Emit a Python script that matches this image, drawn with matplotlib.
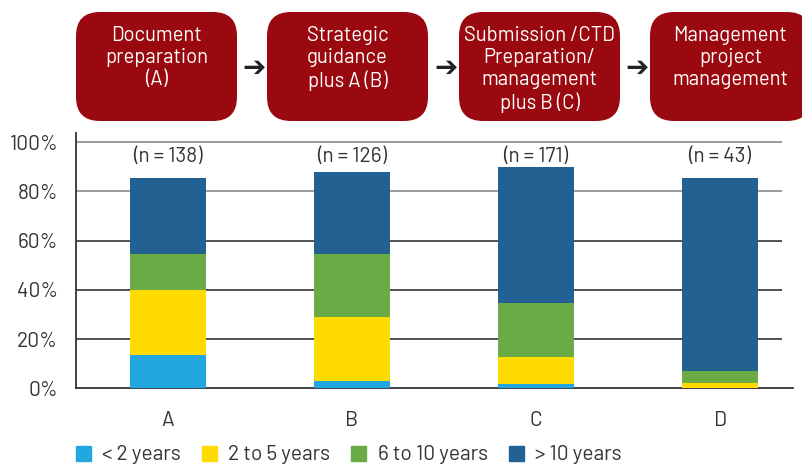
import matplotlib
matplotlib.use('Agg')
import numpy as np
import matplotlib.pyplot as plt
from matplotlib.patches import FancyBboxPatch, Patch

plt.rcParams['font.family'] = ['Barlow', 'DejaVu Sans']

# ── data ───────────────────────────────────────────────────────────────────────
categories = ['A', 'B', 'C', 'D']
sample_sizes = [138, 126, 171, 43]
series_names = ['< 2 years', '2 to 5 years', '6 to 10 years', '> 10 years']
lt2 = [13.5, 3.1, 1.7, 0.0]
y2to5 = [26.5, 25.9, 11.0, 2.2]
y6to10 = [14.6, 25.6, 22.0, 4.8]
gt10 = [30.8, 33.3, 55.3, 78.4]
yticks = [0, 20, 40, 60, 80, 100]
stage_labels = ['Document\npreparation\n(A)',
                'Strategic\nguidance\nplus A (B)',
                'Submission /CTD\nPreparation/\nmanagement\nplus B (C)',
                'Management\nproject\nmanagement']

colors = ['#22A6E0', '#FFDB00', '#6AAB46', '#236192']
box_color = '#9B0910'
fs = 15

# ── figure ─────────────────────────────────────────────────────────────────────
W, H = 803, 467
fig = plt.figure(figsize=(W / 100, H / 100), dpi=100)

ax = fig.add_axes([76 / W, 1 - 388.3 / H, (793 - 76) / W, (388.3 - 133) / H])
x = np.arange(len(categories))
bottom = np.zeros(len(categories))
for name, vals, col in zip(series_names, [lt2, y2to5, y6to10, gt10], colors):
    ax.bar(x, vals, width=0.41, bottom=bottom, color=col, label=name, zorder=3)
    bottom += np.array(vals)

ax.set_xlim(-0.5, 3.397)
ax.set_ylim(0, 103.7)
grid_cols = ['#333333', '#333333', '#333333', '#333333', '#8a8a8a', '#8a8a8a']
for t, gc in zip(yticks[1:], grid_cols[1:]):
    ax.hlines(t, -0.5, 3.337, color=gc, lw=1.2, zorder=1)

ax.set_yticks(yticks)
ax.set_yticklabels([f'{t}%' for t in yticks])
ax.set_xticks(x)
ax.set_xticklabels(categories)
ax.tick_params(axis='y', length=0, pad=13, labelsize=fs, labelcolor='#333333')
ax.tick_params(axis='x', length=0, pad=16, labelsize=fs, labelcolor='#333333')
for s in ['top', 'right']:
    ax.spines[s].set_visible(False)
ax.spines['left'].set_color('#333333')
ax.spines['left'].set_linewidth(1.3)
ax.spines['bottom'].set_color('#333333')
ax.spines['bottom'].set_linewidth(1.3)

for xi, n in zip(x, sample_sizes):
    ax.text(xi, 94.3, f'(n = {n})', ha='center', va='center',
            fontsize=fs, color='#333333')

handles = [Patch(color=c, label=n) for n, c in zip(series_names, colors)]
fig.legend(handles=handles, loc='center left', bbox_to_anchor=(76 / W, 1 - 455 / H),
           ncol=4, frameon=False, fontsize=fs, handlelength=0.72,
           handleheight=0.72, handletextpad=0.55, columnspacing=1.0,
           borderpad=0, borderaxespad=0, labelcolor='#333333')

# ── process boxes on top ───────────────────────────────────────────────────────
top = fig.add_axes([0, 0, 1, 1], zorder=-1)
top.set_xlim(0, W)
top.set_ylim(H, 0)
top.axis('off')
box_left = [76, 267, 459, 650]
for bx, lab in zip(box_left, stage_labels):
    top.add_patch(FancyBboxPatch((bx + 24, 12 + 24), 161 - 48, 109 - 48,
                                 boxstyle='round,pad=24', fc=box_color, ec='none'))
    top.text(bx + 80.5, 26, lab, ha='center', va='top', color='white',
             fontsize=14.6, linespacing=1.2)
for bx in box_left[1:]:
    top.text(bx - 13, 67.5, '\u2794', ha='center', va='center', fontsize=20,
             color='#222222', family='DejaVu Sans', fontweight='bold')

fig.savefig('out.png', dpi=100)
